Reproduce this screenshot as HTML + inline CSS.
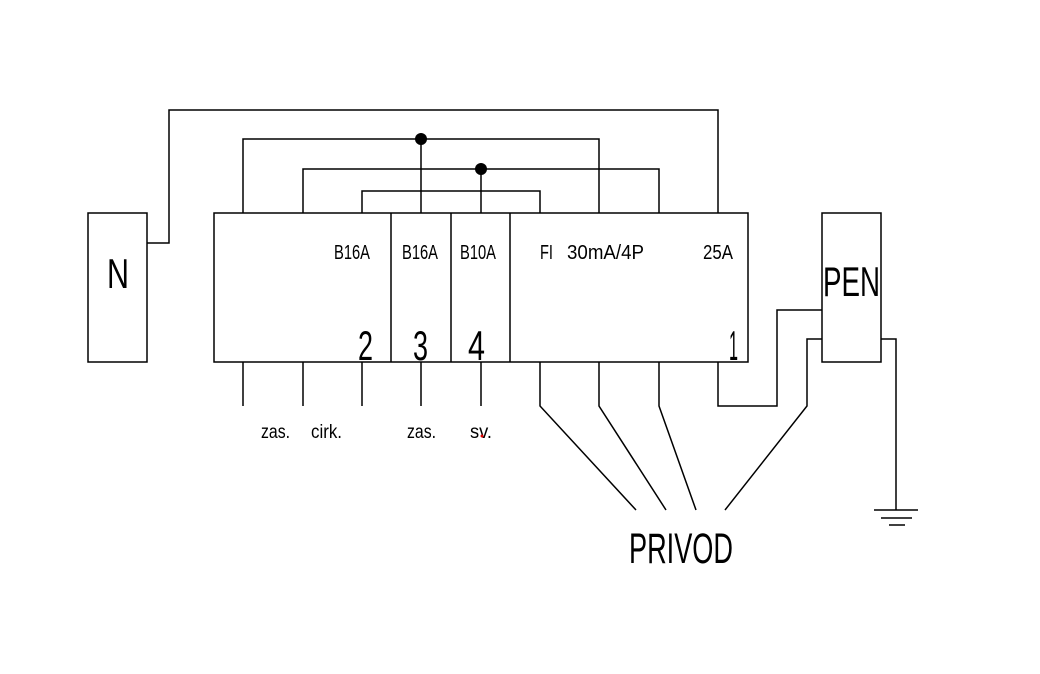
<!DOCTYPE html>
<html><head><meta charset="utf-8"><style>
html,body{margin:0;padding:0;background:#fff;}
svg{display:block;}
text{font-family:"Liberation Sans",sans-serif;fill:#000;}
</style></head><body>
<svg width="1040" height="674" viewBox="0 0 1040 674" xmlns="http://www.w3.org/2000/svg">
<g fill="none" stroke="#000" stroke-width="1.5">
<rect x="88" y="213" width="59" height="149"/>
<rect x="214" y="213" width="534" height="149"/>
<line x1="391" y1="213" x2="391" y2="362"/>
<line x1="451" y1="213" x2="451" y2="362"/>
<line x1="510" y1="213" x2="510" y2="362"/>
<rect x="822" y="213" width="59" height="149"/>
<polyline points="147,243 169,243 169,110 718,110 718,213"/>
<polyline points="243,213 243,139 599,139 599,213"/>
<polyline points="303,213 303,169 659,169 659,213"/>
<polyline points="362,213 362,191 540,191 540,213"/>
<line x1="421" y1="139" x2="421" y2="213"/>
<line x1="481" y1="169" x2="481" y2="213"/>
<line x1="243" y1="362" x2="243" y2="406"/>
<line x1="303" y1="362" x2="303" y2="406"/>
<line x1="362" y1="362" x2="362" y2="406"/>
<line x1="421" y1="362" x2="421" y2="406"/>
<line x1="481" y1="362" x2="481" y2="406"/>
<polyline points="540,362 540,406 636,510"/>
<polyline points="599,362 599,406 666,510"/>
<polyline points="659,362 659,406 696,510"/>
<polyline points="718,362 718,406 777,406 777,310 822,310"/>
<polyline points="822,339 807,339 807,406 725,510"/>
<polyline points="881,339 896,339 896,510"/>
<line x1="874" y1="510" x2="918" y2="510"/>
<line x1="881" y1="518" x2="912" y2="518"/>
<line x1="889" y1="525" x2="905" y2="525"/>
</g>
<circle cx="421" cy="139" r="6" fill="#000"/>
<circle cx="481" cy="169" r="6" fill="#000"/>
<g font-size="20">
<text x="334" y="259" textLength="36" lengthAdjust="spacingAndGlyphs">B16A</text>
<text x="402" y="259" textLength="36" lengthAdjust="spacingAndGlyphs">B16A</text>
<text x="460" y="259" textLength="36" lengthAdjust="spacingAndGlyphs">B10A</text>
<text x="540" y="259" textLength="13" lengthAdjust="spacingAndGlyphs">FI</text>
<text x="567" y="259" textLength="77" lengthAdjust="spacingAndGlyphs">30mA/4P</text>
<text x="703" y="259" textLength="30" lengthAdjust="spacingAndGlyphs">25A</text>
</g>
<g font-size="42">
<text x="358" y="360" textLength="15" lengthAdjust="spacingAndGlyphs">2</text>
<text x="413" y="360" textLength="15" lengthAdjust="spacingAndGlyphs">3</text>
<text x="468" y="360" textLength="17" lengthAdjust="spacingAndGlyphs">4</text>
<text x="729" y="360" textLength="9" lengthAdjust="spacingAndGlyphs">1</text>
<text x="107" y="288" textLength="22" lengthAdjust="spacingAndGlyphs">N</text>
<text x="823" y="296" textLength="57" lengthAdjust="spacingAndGlyphs">PEN</text>
<text x="629" y="563" font-size="43" textLength="104" lengthAdjust="spacingAndGlyphs">PRIVOD</text>
</g>
<g font-size="19">
<text x="261" y="438" textLength="29" lengthAdjust="spacingAndGlyphs">zas.</text>
<text x="311" y="438" textLength="31" lengthAdjust="spacingAndGlyphs">cirk.</text>
<text x="407" y="438" textLength="29" lengthAdjust="spacingAndGlyphs">zas.</text>
<text x="470" y="438" textLength="22" lengthAdjust="spacingAndGlyphs">sv.</text>
</g>
<circle cx="482" cy="436" r="1.5" fill="#d00"/>
</svg>
</body></html>
